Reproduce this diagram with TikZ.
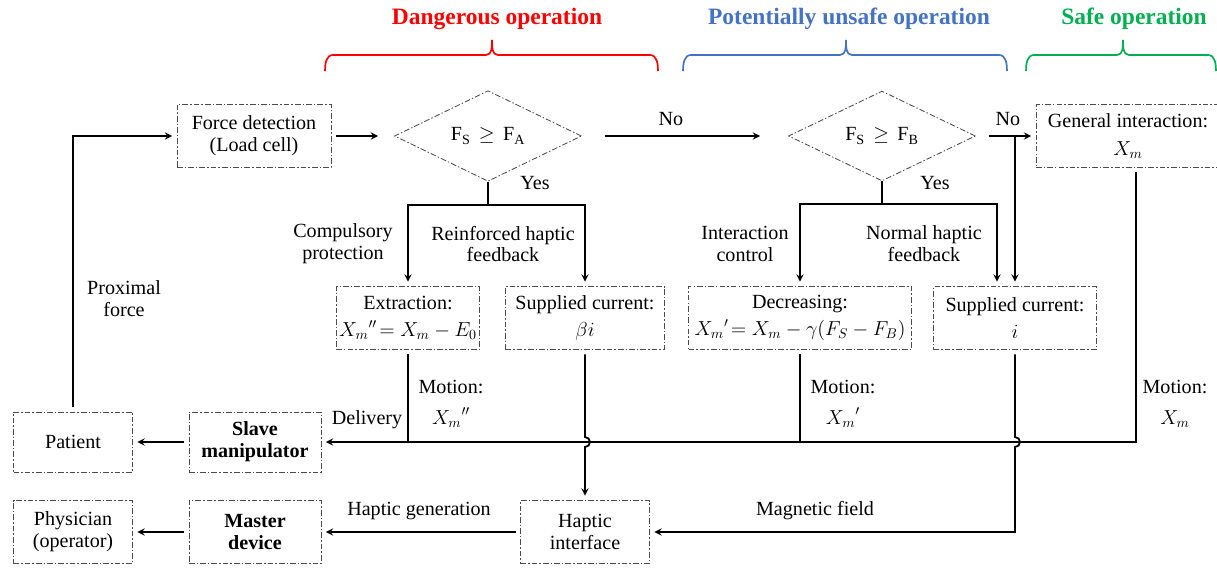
\documentclass[tikz,border=0pt]{standalone}
\usepackage{amsmath}
\usepackage{fontspec}
\setmainfont{Liberation Serif}
\usetikzlibrary{shapes.geometric, arrows}
\definecolor{dangred}{RGB}{255,0,0}
\definecolor{unsafeblue}{RGB}{68,114,196}
\definecolor{safegreen}{RGB}{0,176,80}
\tikzstyle{box} = [rectangle, draw=black!70, line width=0.6pt, dash pattern=on 4pt off 1.5pt on 1pt off 1.5pt, align=center, minimum height=1.575cm, inner sep=2pt, outer sep=0.12cm]
\tikzstyle{decision} = [diamond, draw=black!70, line width=0.6pt, dash pattern=on 4pt off 1.5pt on 1pt off 1.5pt, minimum width=4.675cm, minimum height=1.85cm, inner sep=0pt]
\tikzstyle{arrow} = [line width=1.3pt,->,>=stealth]
\tikzstyle{line} = [line width=1.3pt]
\tikzstyle{title} = [font=\bfseries\fontsize{16.7}{18}\selectfont]
\def\opbrace#1#2#3#4{\draw [line width=1.2pt, #4] (#1,-1.775) to[out=90,in=180] (#1+0.2,-1.375) -- (#2-0.15,-1.375) to[out=0,in=-90] (#2,-1.0) to[out=-90,in=180] (#2+0.15,-1.375) -- (#3-0.2,-1.375) to[out=0,in=90] (#3,-1.775);}

\begin{document}
\begin{tikzpicture}[node distance=4.55cm, font=\fontsize{14.3}{15.6}\selectfont]
\useasboundingbox (0,0) rectangle (30.425,-14.2);

\node (dang) [title, text=dangred] at (12.425,-0.475) {Dangerous operation};
\node (unsafe) [title, text=unsafeblue] at (21.225,-0.475) {Potentially unsafe operation};
\node (safe) [title, text=safegreen] at (28.35,-0.475) {Safe operation};
\opbrace{8.125}{12.3}{16.45}{dangred}
\opbrace{17.075}{21.15}{25.175}{unsafeblue}
\opbrace{25.65}{28.075}{30.4}{safegreen}

\node (fd) [box, minimum width=3.85cm] at (6.35,-3.4) {Force detection\\(Load cell)};
\node (da) [decision, right of=fd, xshift=1.3cm] {F\textsubscript{S} \,$\geq$\, F\textsubscript{A}};
\node (db) [decision, right of=da, xshift=5.3cm] {F\textsubscript{S} \,$\geq$\, F\textsubscript{B}};
\node (gi) [box, minimum width=4.6cm, right of=db, xshift=1.6cm] {General interaction:\\[4pt]$X_m$};
\node (ex) [box, minimum width=3.375cm, below of=da, xshift=-2cm] {Extraction:\\[4pt]${X_m}''\!=X_m-E_0$};
\node (sa) [box, minimum width=3.975cm, below of=da, xshift=2.425cm] {Supplied current:\\[3pt]$\beta i$};
\node (dc) [box, minimum width=5.575cm, below of=db, xshift=-2.05cm] {Decreasing:\\[4pt]${X_m}'\!=X_m-\gamma(F_S-F_B)$};
\node (sb) [box, minimum width=4.075cm, below of=db, xshift=3.325cm] {Supplied current:\\[3pt]$i$};
\node (hi) [box, minimum width=3.225cm, below of=sa, yshift=-0.8cm] {Haptic\\interface};
\node (md) [box, minimum width=3.3cm, left of=hi, xshift=-3.7cm] {\textbf{Master}\\\textbf{device}};
\node (ph) [box, minimum width=2.975cm, left of=md] {Physician\\(operator)};
\node (sm) [box, minimum width=3.3cm, minimum height=1.5cm, above of=md, yshift=-2.3cm] {\textbf{Slave}\\\textbf{manipulator}};
\node (pt) [box, minimum width=2.975cm, minimum height=1.5cm, left of=sm] {Patient};

\node (no1) at (16.775,-2.975) {No};
\node (no2) at (25.2,-2.975) {No};
\node (yes1) at (13.375,-4.575) {Yes};
\node (yes2) at (23.375,-4.575) {Yes};
\node (cp) [align=center] at (8.575,-6.1) {Compulsory\\protection};
\node (rh) [align=center] at (12.575,-6.1) {Reinforced haptic\\feedback};
\node (ic) [align=center] at (18.625,-6.1) {Interaction\\control};
\node (nh) [align=center] at (23.1,-6.1) {Normal haptic\\feedback};
\node (pf) [align=center] at (3.1,-7.475) {Proximal\\force};
\node (dl) at (9.175,-10.5) {Delivery};
\node (mo1) [align=center] at (11.275,-10.1) {Motion:\\[6pt]${X_m}''$};
\node (mo2) [align=center] at (21.075,-10.1) {Motion:\\[6pt]${X_m}'$};
\node (mo3) [align=center] at (29.375,-10.1) {Motion:\\[6pt]$X_m$};
\node (hg) at (10.475,-12.775) {Haptic generation};
\node (mf) at (20.375,-12.775) {Magnetic field};

\coordinate (ja) at ([yshift=-0.575cm]da.south);
\coordinate (jb) at ([yshift=-0.575cm]db.south);
\coordinate (xa) at (sa.south |- sm.east);
\coordinate (xb) at (sb.south |- sm.east);

\draw [arrow] (pt.north) |- (fd.west);
\draw [arrow, shorten >=0.4cm] (fd.east) -- (da.west);
\draw [arrow, shorten <=0.575cm, shorten >=0.7cm] (da.east) -- (db.west);
\draw [arrow, shorten <=0.325cm] (db.east) -- (gi.west);
\draw [arrow] (db.east -| sb.north) -- (sb.north);

\draw [line] (da.south) -- (ja);
\draw [arrow] (ja) -| (ex.north);
\draw [arrow] (ja) -| (sa.north);
\draw [line] (db.south) -- (jb);
\draw [arrow] (jb) -| (dc.north);
\draw [arrow] (jb) -| ([xshift=-0.45cm]sb.north);

\draw [arrow] ([xshift=0.2cm]gi.south) |- (sm.east);
\draw [line] (ex.south) -- (ex.south |- sm.east);
\draw [line] (dc.south) -- (dc.south |- sm.east);
\draw [arrow] (sa.south) -- ([yshift=0.125cm]xa) arc[start angle=90, end angle=-90, radius=0.125cm] -- (hi.north);
\draw [arrow] (sb.south) -- ([yshift=0.125cm]xb) arc[start angle=90, end angle=-90, radius=0.125cm] |- (hi.east);

\draw [arrow] (sm.west) -- (pt.east);
\draw [arrow] (hi.west) -- (md.east);
\draw [arrow] (md.west) -- (ph.east);
\end{tikzpicture}
\end{document}
